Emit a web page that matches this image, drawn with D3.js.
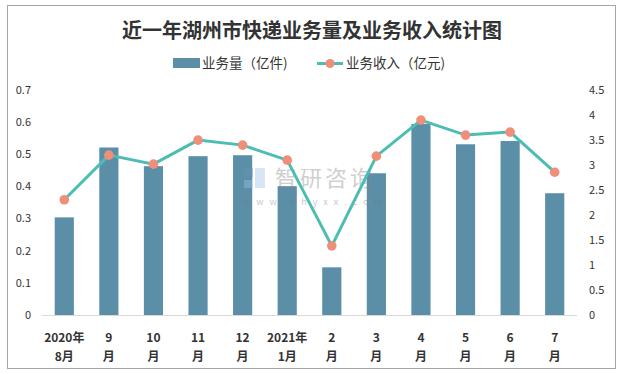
<!DOCTYPE html>
<html><head><meta charset="utf-8">
<script src="https://cdn.jsdelivr.net/npm/d3@7/dist/d3.min.js"></script>
<style>body{margin:0;background:#fff}svg{display:block}</style>
</head><body>
<script>
const titleText = "近一年湖州市快递业务量及业务收入统计图";
const categories = [["2020年","8月"],["9","月"],["10","月"],["11","月"],["12","月"],["2021年","1月"],["2","月"],["3","月"],["4","月"],["5","月"],["6","月"],["7","月"]];
const volume = [0.303, 0.52, 0.462, 0.493, 0.496, 0.40, 0.148, 0.44, 0.593, 0.530, 0.540, 0.378];
const revenue = [2.3, 3.19, 3.01, 3.49, 3.39, 3.09, 1.38, 3.17, 3.89, 3.59, 3.65, 2.85];
const leftTicks = [0,0.1,0.2,0.3,0.4,0.5,0.6,0.7];
const rightTicks = [0,0.5,1,1.5,2,2.5,3,3.5,4,4.5];
const seriesNames = ["业务量（亿件)","业务收入（亿元)"];

const W=624,H=374;
const svg=d3.select("body").append("svg").attr("width",W).attr("height",H);
const font="'Noto Sans CJK SC','Noto Sans',sans-serif";
svg.append("rect").attr("x",7.5).attr("y",5.5).attr("width",608).attr("height",363)
  .attr("fill","#fff").attr("stroke","#a6a6a6").attr("stroke-width",1);

svg.append("text").attr("x",312).attr("y",38).attr("text-anchor","middle")
  .attr("font-family",font).attr("font-weight","bold").attr("font-size",20)
  .attr("fill","#333").text(titleText);

const x=d3.scaleBand().domain(d3.range(categories.length)).range([42,577]).paddingInner(0.57).paddingOuter(0.285);
const yL=d3.scaleLinear().domain([0,0.7]).range([315,89.5]);
const yR=d3.scaleLinear().domain([0,4.5]).range([315,89.5]);

svg.append("g").selectAll("text").data(leftTicks).join("text")
  .attr("x",31).attr("y",d=>yL(d)+4).attr("text-anchor","end")
  .attr("font-family",font).attr("font-size",11).attr("fill","#333").text(d=>d);
svg.append("g").selectAll("text").data(rightTicks).join("text")
  .attr("x",589).attr("y",d=>yR(d)+4).attr("text-anchor","start")
  .attr("font-family",font).attr("font-size",11).attr("fill","#333").text(d=>d);

// bars
svg.append("g").selectAll("rect").data(volume).join("rect")
  .attr("x",(d,i)=>x(i)).attr("width",x.bandwidth())
  .attr("y",d=>yL(d)).attr("height",d=>yL(0)-yL(d)).attr("fill","#5b8fa8");

svg.append("line").attr("x1",42).attr("x2",577).attr("y1",315.5).attr("y2",315.5)
  .attr("stroke","#d9d9d9").attr("stroke-width",1);

// watermark (on top of bars)
const wm=svg.append("g").attr("opacity",0.4);
wm.append("rect").attr("x",244).attr("y",168).attr("width",9).attr("height",10).attr("fill","#6a8fb8");
wm.append("rect").attr("x",255).attr("y",168).attr("width",10).attr("height",20).attr("fill","#9cc3e6");
wm.append("rect").attr("x",244).attr("y",180).attr("width",9).attr("height",8).attr("fill","#9cc3e6");
wm.append("text").attr("x",275).attr("y",186).attr("font-family",font).attr("font-size",22)
  .attr("fill","#888").attr("letter-spacing",3).text("智研咨询");
wm.append("text").attr("x",243).attr("y",205).attr("font-family",font).attr("font-size",9)
  .attr("fill","#777").attr("letter-spacing",6).text("www.chyxx.com");

// line
const cx=i=>x(i)+x.bandwidth()/2;
svg.append("path").datum(revenue)
  .attr("d",d3.line().x((d,i)=>cx(i)).y(d=>yR(d)))
  .attr("fill","none").attr("stroke","#4dbdb3").attr("stroke-width",3);
svg.append("g").selectAll("circle").data(revenue).join("circle")
  .attr("cx",(d,i)=>cx(i)).attr("cy",d=>yR(d)).attr("r",4.8).attr("fill","#ef8f7a");

// category labels
const cl=svg.append("g").selectAll("g").data(categories).join("g");
cl.append("text").attr("x",(d,i)=>cx(i)).attr("y",342).attr("text-anchor","middle")
  .attr("font-family",font).attr("font-weight","bold").attr("font-size",12).attr("fill","#333").text(d=>d[0]);
cl.append("text").attr("x",(d,i)=>cx(i)).attr("y",361).attr("text-anchor","middle")
  .attr("font-family",font).attr("font-weight","bold").attr("font-size",12).attr("fill","#333").text(d=>d[1]);

// legend
const lg=svg.append("g");
lg.append("rect").attr("x",173).attr("y",58).attr("width",27).attr("height",10).attr("fill","#5b8fa8");
lg.append("text").attr("x",202).attr("y",68).attr("font-family",font).attr("font-size",13.5).attr("fill","#333").text(seriesNames[0]);
lg.append("line").attr("x1",317).attr("x2",343).attr("y1",63.5).attr("y2",63.5).attr("stroke","#4dbdb3").attr("stroke-width",3);
lg.append("circle").attr("cx",330).attr("cy",63.5).attr("r",4.5).attr("fill","#ef8f7a");
lg.append("text").attr("x",346).attr("y",68).attr("font-family",font).attr("font-size",13.5).attr("fill","#333").text(seriesNames[1]);
</script>
</body></html>
